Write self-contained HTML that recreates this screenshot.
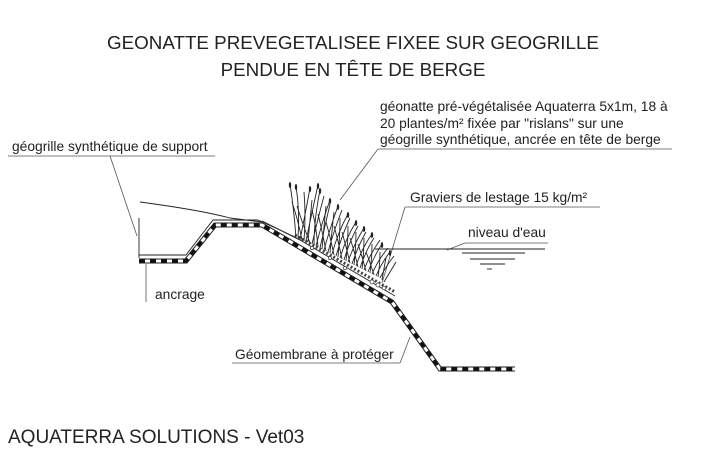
<!DOCTYPE html>
<html><head><style>
html,body{margin:0;padding:0;background:#fff;}
svg{display:block;font-family:"Liberation Sans",sans-serif;}
</style></head><body>
<svg width="720" height="460" viewBox="0 0 720 460" xmlns="http://www.w3.org/2000/svg">
<rect width="720" height="460" fill="#fff"/>
<g fill="#222" font-size="18.8" text-anchor="middle">
<text x="353" y="49">GEONATTE PREVEGETALISEE FIXEE SUR GEOGRILLE</text>
<text x="353" y="76">PENDUE EN TÊTE DE BERGE</text>
</g>
<g fill="#222" font-size="13.8">
<text x="380" y="111">géonatte pré-végétalisée Aquaterra 5x1m, 18 à</text>
<text x="380" y="128">20 plantes/m² fixée par "rislans" sur une</text>
<text x="380" y="144">géogrille synthétique, ancrée en tête de berge</text>
<text x="12" y="151">géogrille synthétique de support</text>
<text x="410" y="202">Graviers de lestage 15 kg/m²</text>
<text x="468" y="237">niveau d'eau</text>
<text x="155" y="299">ancrage</text>
<text x="235" y="359">Géomembrane à protéger</text>
</g>
<text x="8" y="443" fill="#222" font-size="19">AQUATERRA SOLUTIONS - Vet03</text>
<g stroke="#555" stroke-width="0.8" fill="none">
<line x1="378" y1="149" x2="672" y2="149"/>
<line x1="378" y1="149" x2="340" y2="200"/>
<line x1="8" y1="156" x2="215" y2="156"/>
<line x1="110" y1="156" x2="137" y2="236"/>
<line x1="405" y1="207" x2="600" y2="207"/>
<line x1="405" y1="207" x2="382" y2="283"/>
<line x1="465" y1="243" x2="548" y2="243"/>
<line x1="465" y1="243" x2="447" y2="250"/>
<line x1="232" y1="363" x2="400" y2="363"/>
<line x1="400" y1="363" x2="410" y2="337"/>
<line x1="146" y1="264" x2="146" y2="302"/>
</g>
<g stroke="#222" stroke-width="0.9" fill="none">
<line x1="139" y1="218" x2="139" y2="258"/>
<path d="M139 255 L186 255 L213 220 L258 220 L295 237"/>
<path d="M140 202 Q200 210 230 218 L262 222"/>
<line x1="375" y1="249" x2="545" y2="249"/>
<line x1="462" y1="253" x2="525" y2="253"/>
<line x1="470" y1="259" x2="515" y2="259"/>
<line x1="480" y1="264" x2="505" y2="264"/>
<line x1="487" y1="269" x2="492" y2="269"/>
</g>
<path d="M139 261 L186 261 L215 225 L262 225 L392 302 L440 369 L515 369" stroke="#222" stroke-width="5" fill="none"/>
<path d="M139 261 L186 261 L215 225 L262 225 L392 302 L440 369 L515 369" stroke="#fff" stroke-width="3" fill="none"/>
<path d="M139 261 L186 261 L215 225 L262 225 L392 302 L440 369 L515 369" stroke="#111" stroke-width="3.5" fill="none" stroke-dasharray="6 5"/>
<path d="M262 221 L300 240 L395 296" stroke="#333" stroke-width="1" fill="none"/>
<path d="M295 235 L395 292" stroke="#444" stroke-width="3" fill="none" stroke-dasharray="2 2"/>
<g stroke="#222" stroke-width="0.9" fill="none">
<path d="M296 238 Q294 210 290 184 M298 238 Q300 212 296 186 M300 240 Q306 210 310 188 M302 240 Q298 220 292 202 M304 241 Q306 215 304 192 M306 241 Q312 212 318 185 M308 242 Q310 220 312 200 M310 243 Q302 222 297 206 M312 244 Q318 218 324 196 M314 245 Q314 220 320 190 M316 246 Q322 222 330 200 M318 247 Q316 225 312 210 M320 248 Q326 222 330 204"/>
<path d="M322 249 Q324 226 326 206 M324 250 Q330 228 338 206 M326 251 Q322 230 318 214 M328 252 Q334 230 342 210 M330 253 Q332 230 334 212 M332 254 Q338 232 348 214 M334 255 Q330 236 326 222 M336 256 Q342 235 350 218 M338 257 Q340 236 340 218 M340 258 Q346 238 356 222 M342 259 Q338 240 334 226 M344 260 Q350 240 358 226"/>
<path d="M346 261 Q348 242 348 226 M348 262 Q354 244 364 228 M350 263 Q346 246 342 232 M352 264 Q358 246 366 232 M354 265 Q356 248 356 232 M356 266 Q362 248 372 234 M358 267 Q354 250 350 238 M360 268 Q366 250 374 238 M362 269 Q364 252 364 238 M364 270 Q370 254 380 240 M366 271 Q362 256 358 244 M368 272 Q374 256 382 244"/>
<path d="M370 273 Q372 258 372 244 M372 274 Q378 260 388 248 M374 275 Q370 262 366 252 M376 276 Q382 262 390 252 M378 277 Q380 264 380 252 M380 278 Q386 266 394 256 M382 280 Q384 268 386 258 M384 282 Q390 272 396 262"/>
</g>
<g fill="#222">
<ellipse cx="290" cy="185" rx="1.2" ry="3"/><ellipse cx="296" cy="187" rx="1.2" ry="3"/><ellipse cx="318" cy="186" rx="1.2" ry="3"/><ellipse cx="320" cy="191" rx="1.2" ry="3"/><ellipse cx="338" cy="207" rx="1.2" ry="3"/><ellipse cx="348" cy="215" rx="1.2" ry="3"/><ellipse cx="364" cy="229" rx="1.2" ry="3"/><ellipse cx="382" cy="245" rx="1.2" ry="3"/><ellipse cx="330" cy="201" rx="1.2" ry="3"/><ellipse cx="310" cy="189" rx="1.2" ry="3"/><ellipse cx="356" cy="223" rx="1.2" ry="3"/><ellipse cx="372" cy="235" rx="1.2" ry="3"/><ellipse cx="390" cy="253" rx="1.2" ry="3"/>
</g>
<g fill="#fff" stroke="#333" stroke-width="0.7">
<circle cx="372" cy="282" r="2"/><circle cx="378" cy="285" r="2"/><circle cx="384" cy="288" r="1.8"/><circle cx="345" cy="268" r="1.6"/><circle cx="330" cy="258" r="1.6"/><circle cx="312" cy="248" r="1.6"/>
</g>
</svg>
</body></html>
